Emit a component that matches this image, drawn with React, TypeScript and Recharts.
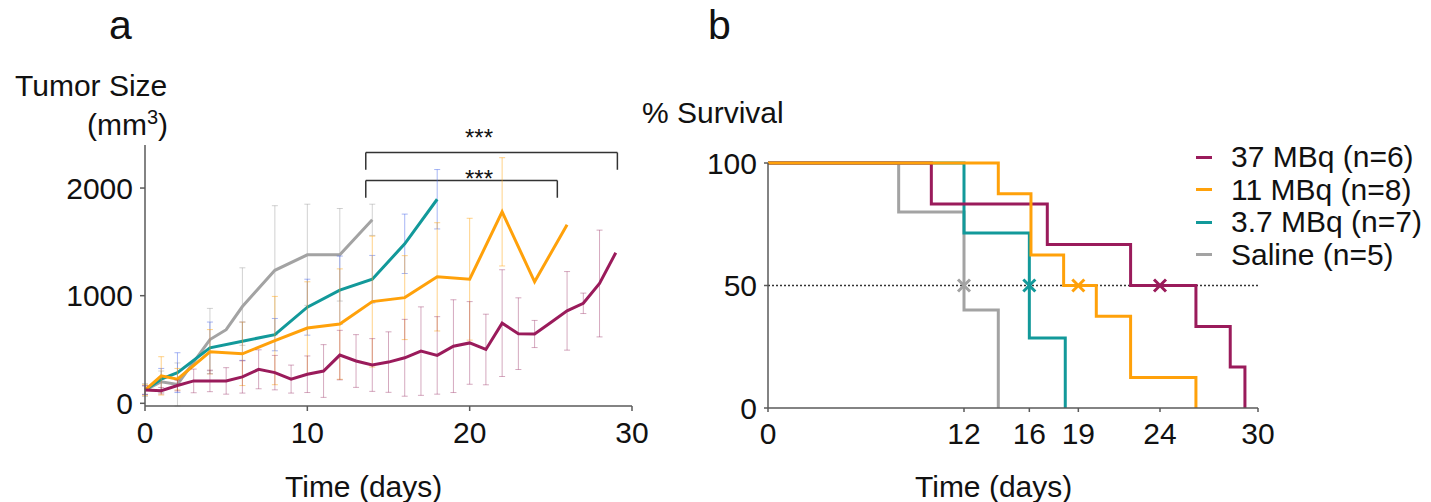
import React from 'react'
import {
  LineChart,
  ComposedChart,
  Line,
  Scatter,
  XAxis,
  YAxis,
  ErrorBar,
  ReferenceLine,
  Legend,
} from 'recharts'

const FONT = '"Liberation Sans", Arial, sans-serif'
const PURPLE = '#9a1b5b'
const ORANGE = '#ffa10a'
const TEAL = '#12999a'
const GRAY = '#a3a3a3'

// panel a: tumour size (mean, SD) per day
const days = [0, 1, 2, 3, 4, 5, 6, 7, 8, 9, 10, 11, 12, 13, 14, 15, 16, 17, 18, 19, 20, 21, 22, 23, 24, 25, 26, 27, 28, 29]
const mbq37 = [123, 117, 165, 208, 208, 208, 245, 316, 285, 225, 270, 300, 448, 393, 356, 383, 423, 485, 445, 531, 561, 500, 745, 647, 644, 751, 859, 929, 1113, 1399]
const mbq37Sd = [40, 30, 50, 110, 100, 123, 150, 181, 160, 130, 170, 245, 230, 245, 245, 281, 357, 411, 360, 431, 384, 328, 496, 333, 126, null, 365, 95, 496, null]
const mbq11 = [123, 255, 224, null, 479, null, 460, null, 583, null, 699, null, 736, null, 945, null, 982, null, 1175, null, 1153, null, 1779, null, 1129, null, 1660, null, null, null]
const mbq11Sd = [50, 178, 100, null, 206, null, 295, null, 410, null, 430, null, 513, null, 608, null, 390, null, 503, null, 566, null, 503, null, null, null, null, null, null, null]
const mbq3 = [123, 224, 285, null, 515, null, 577, null, 638, null, 893, null, 1052, null, 1153, null, 1482, null, 1896, null, null, null, null, null, null, null, null, null, null, null]
const mbq3Sd = [40, 100, 185, null, 240, null, 178, null, 150, null, 260, null, 316, null, 221, null, 276, null, 276, null, null, null, null, null, null, null, null, null, null, null]
const saline = [123, 200, 175, null, 592, 684, 899, null, 1236, null, 1380, null, 1380, null, 1705, null, null, null, null, null, null, null, null, null, null, null, null, null, null, null]
const salineSd = [60, 100, 200, null, 290, null, 360, null, 600, null, 470, null, 430, null, 145, null, null, null, null, null, null, null, null, null, null, null, null, null, null, null]

const growthXTicks = [0, 10, 20, 30]
const growthYTicks = [0, 1000, 2000]

// significance brackets (days, mm3)
const bracketFrom = [13.6, 13.6]
const bracketTo = [29.1, 25.4]
const bracketY = [2330, 2070]
const bracketDrop = [2170, 1910]

// panel b: Kaplan-Meier steps
const mbq37Days = [0, 10, 17.1, 22.2, 26.2, 28.3, 29.2]
const mbq37Surv = [100, 83.3, 66.7, 50, 33.3, 16.7, 0]
const mbq11Days = [0, 14.1, 16.1, 18.1, 20.1, 22.2, 26.2]
const mbq11Surv = [100, 87.5, 62.5, 50, 37.5, 12.5, 0]
const mbq3Days = [0, 12, 16, 18.2]
const mbq3Surv = [100, 71.4, 28.6, 0]
const salineDays = [0, 8, 12, 14.1]
const salineSurv = [100, 80, 40, 0]

const groupNames = ['37 MBq (n=6)', '11 MBq (n=8)', '3.7 MBq (n=7)', 'Saline (n=5)']
const groupColors = [PURPLE, ORANGE, TEAL, GRAY]
const medianDays = [24, 19, 16, 12]

const survXTicks = [0, 12, 16, 19, 24, 30]
const survYTicks = [0, 50, 100]

const growthRows = days.map((day, i) => ({
  day,
  mbq37: mbq37[i],
  mbq37Sd: mbq37Sd[i],
  mbq11: mbq11[i],
  mbq11Sd: mbq11Sd[i],
  mbq3: mbq3[i],
  mbq3Sd: mbq3Sd[i],
  saline: saline[i],
  salineSd: salineSd[i],
}))

const toSteps = (t: number[], s: number[]) => t.map((x, i) => ({ t: x, s: s[i] }))
const survivalSeries = [
  toSteps(mbq37Days, mbq37Surv),
  toSteps(mbq11Days, mbq11Surv),
  toSteps(mbq3Days, mbq3Surv),
  toSteps(salineDays, salineSurv),
]
// drawing order: saline, 3.7, 37, 11 (orange ends up on top)
const drawOrder = [3, 2, 0, 1]

const tickStyle = { fill: '#111', fontSize: 30, fontFamily: FONT }
const axisStyle = { stroke: '#5a5a5a', strokeWidth: 1.5 }

const Cross = (props: any) => {
  const { cx, cy, color } = props
  const r = 6
  return (
    <path
      d={`M${cx - r},${cy - r}L${cx + r},${cy + r}M${cx - r},${cy + r}L${cx + r},${cy - r}`}
      stroke={color}
      strokeWidth={3}
      fill="none"
    />
  )
}

const SurvivalLegend = () => (
  <div style={{ fontFamily: FONT, fontSize: 30, color: '#111' }}>
    {groupNames.map((name, i) => (
      <div key={name} style={{ display: 'flex', alignItems: 'center', height: 32.5, whiteSpace: 'nowrap' }}>
        <span style={{ display: 'inline-block', width: 16, height: 3, background: groupColors[i], marginRight: 19 }} />
        {name}
      </div>
    ))}
  </div>
)

const errColors = {
  mbq37: 'rgba(150,40,95,0.4)',
  mbq11: 'rgba(255,165,20,0.5)',
  mbq3: 'rgba(80,110,235,0.5)',
  saline: 'rgba(140,140,140,0.4)',
}

export default function App() {
  return (
    <div style={{ position: 'absolute', left: 0, top: 0, width: 1431, height: 502, background: '#fff' }}>
      <div style={{ position: 'absolute', left: 0, top: 0 }}>
        <LineChart width={700} height={502} data={growthRows} margin={{ top: 145, right: 68, bottom: 56, left: 85 }}>
          <XAxis
            type="number"
            dataKey="day"
            domain={[0, 30]}
            ticks={growthXTicks}
            interval={0}
            height={40}
            tickSize={5}
            tickMargin={11}
            tick={tickStyle}
            axisLine={axisStyle}
            tickLine={axisStyle}
          />
          <YAxis
            type="number"
            domain={[0, 2400]}
            ticks={growthYTicks}
            interval={0}
            width={60}
            tickSize={5}
            tickMargin={7}
            tick={tickStyle}
            axisLine={axisStyle}
            tickLine={axisStyle}
          />
          {bracketFrom.map((x0, i) => (
            <ReferenceLine
              key={`h${i}`}
              segment={[{ x: x0, y: bracketY[i] }, { x: bracketTo[i], y: bracketY[i] }]}
              stroke="#333"
              strokeWidth={1.5}
            />
          ))}
          {bracketFrom.map((x0, i) => (
            <ReferenceLine
              key={`l${i}`}
              segment={[{ x: x0, y: bracketY[i] }, { x: x0, y: bracketDrop[i] }]}
              stroke="#333"
              strokeWidth={1.5}
            />
          ))}
          {bracketTo.map((x1, i) => (
            <ReferenceLine
              key={`r${i}`}
              segment={[{ x: x1, y: bracketY[i] }, { x: x1, y: bracketDrop[i] }]}
              stroke="#333"
              strokeWidth={1.5}
            />
          ))}
          <Line dataKey="saline" stroke={GRAY} strokeWidth={3} dot={false} connectNulls isAnimationActive={false}>
            <ErrorBar dataKey="salineSd" direction="y" width={3} stroke={errColors.saline} strokeWidth={1} isAnimationActive={false} />
          </Line>
          <Line dataKey="mbq3" stroke={TEAL} strokeWidth={3} dot={false} connectNulls isAnimationActive={false}>
            <ErrorBar dataKey="mbq3Sd" direction="y" width={3} stroke={errColors.mbq3} strokeWidth={1} isAnimationActive={false} />
          </Line>
          <Line dataKey="mbq11" stroke={ORANGE} strokeWidth={3} dot={false} connectNulls isAnimationActive={false}>
            <ErrorBar dataKey="mbq11Sd" direction="y" width={3} stroke={errColors.mbq11} strokeWidth={1} isAnimationActive={false} />
          </Line>
          <Line dataKey="mbq37" stroke={PURPLE} strokeWidth={3} dot={false} connectNulls isAnimationActive={false}>
            <ErrorBar dataKey="mbq37Sd" direction="y" width={3} stroke={errColors.mbq37} strokeWidth={1} isAnimationActive={false} />
          </Line>
        </LineChart>
      </div>

      <div style={{ position: 'absolute', left: 700, top: 0 }}>
        <ComposedChart width={731} height={502} margin={{ top: 163, right: 173, bottom: 54, left: 8 }}>
          <XAxis
            type="number"
            dataKey="t"
            domain={[0, 30]}
            ticks={survXTicks}
            interval={0}
            height={40}
            tickSize={4}
            tickMargin={11}
            tick={tickStyle}
            axisLine={axisStyle}
            tickLine={axisStyle}
          />
          <YAxis
            type="number"
            dataKey="s"
            domain={[0, 100]}
            ticks={survYTicks}
            interval={0}
            width={60}
            tickSize={4}
            tickMargin={7}
            tick={tickStyle}
            axisLine={axisStyle}
            tickLine={axisStyle}
          />
          <ReferenceLine y={50} stroke="#333" strokeWidth={1.5} strokeDasharray="2 2" />
          {drawOrder.map((g) => (
            <Line
              key={groupNames[g]}
              data={survivalSeries[g]}
              dataKey="s"
              name={groupNames[g]}
              type="stepAfter"
              stroke={groupColors[g]}
              strokeWidth={3}
              dot={false}
              isAnimationActive={false}
            />
          ))}
          {drawOrder.map((g) => (
            <Scatter
              key={`m${g}`}
              data={[{ t: medianDays[g], s: 50 }]}
              dataKey="s"
              isAnimationActive={false}
              shape={(p: any) => <Cross {...p} color={groupColors[g]} />}
            />
          ))}
          <Legend
            layout="vertical"
            align="center"
            verticalAlign="middle"
            wrapperStyle={{ left: 496, top: 141, width: 235 }}
            content={() => <SurvivalLegend />}
          />
        </ComposedChart>
      </div>

      <svg
        width={1431}
        height={502}
        style={{ position: 'absolute', left: 0, top: 0, pointerEvents: 'none' }}
        fontFamily={FONT}
        fill="#111"
      >
        <text x={109} y={39} fontSize={41}>a</text>
        <text x={708} y={39} fontSize={41}>b</text>
        <text x={15} y={96} fontSize={30}>Tumor Size</text>
        <text x={87} y={135} fontSize={30}>
          (mm<tspan fontSize={20} dy={-11}>3</tspan><tspan dy={11}>)</tspan>
        </text>
        <text x={479} y={146} fontSize={24} textAnchor="middle">***</text>
        <text x={479} y={187} fontSize={24} textAnchor="middle">***</text>
        <text x={642} y={123} fontSize={30}>% Survival</text>
        <text x={285} y={497} fontSize={30}>Time (days)</text>
        <text x={915} y={497} fontSize={30}>Time (days)</text>
      </svg>
    </div>
  )
}
